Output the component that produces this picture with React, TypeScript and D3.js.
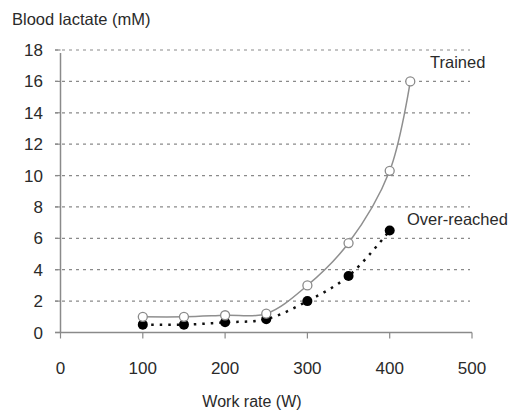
import React from 'react';
import * as d3 from 'd3';

// values
const workRate = [100, 150, 200, 250, 300, 350, 400];
const trainedX = [100, 150, 200, 250, 300, 350, 400, 425];
const trained = [1.0, 1.0, 1.1, 1.2, 3.0, 5.7, 10.3, 16.0];
const overReached = [0.5, 0.5, 0.65, 0.85, 2.0, 3.6, 6.5];
const xTicks = [0, 100, 200, 300, 400, 500];
const yTicks = [0, 2, 4, 6, 8, 10, 12, 14, 16, 18];

const W = 518;
const H = 414;
const font = '"Liberation Sans", Arial, sans-serif';

const App = () => {
  const x = d3.scaleLinear().domain([0, 500]).range([60.5, 472]);
  const y = d3.scaleLinear().domain([0, 18]).range([332.5, 50]);

  const line = d3
    .line<[number, number]>()
    .x((d) => x(d[0]))
    .y((d) => y(d[1]))
    .curve(d3.curveCatmullRom.alpha(0.5));

  const trainedPts: [number, number][] = trainedX.map((v, i) => [v, trained[i]]);
  const overPts: [number, number][] = workRate.map((v, i) => [v, overReached[i]]);

  return (
    <svg
      width={W}
      height={H}
      style={{ position: 'absolute', left: 0, top: 0, background: '#fff' }}
    >
      <text x={12} y={25} fontFamily={font} fontSize={16.5} fill="#2a2a2a">
        Blood lactate (mM)
      </text>

      {/* grid */}
      {yTicks
        .filter((t) => t > 0)
        .map((t) => (
          <line
            key={'g' + t}
            x1={55}
            x2={470}
            y1={y(t)}
            y2={y(t)}
            stroke="#8a8a8a"
            strokeWidth={1.2}
            strokeDasharray="3 4"
          />
        ))}

      {/* y axis */}
      <line x1={x(0)} x2={x(0)} y1={y(18) + 3} y2={y(0)} stroke="#8a8a8a" strokeWidth={1.5} />
      {yTicks.map((t) => (
        <g key={'y' + t}>
          <line x1={55} x2={x(0)} y1={y(t)} y2={y(t)} stroke="#8a8a8a" strokeWidth={1.2} />
          <text
            x={43}
            y={y(t) + 6}
            textAnchor="end"
            fontFamily={font}
            fontSize={17}
            fill="#2a2a2a"
          >
            {t}
          </text>
        </g>
      ))}

      {/* x axis */}
      <line x1={55} x2={x(500)} y1={y(0)} y2={y(0)} stroke="#8a8a8a" strokeWidth={1.5} />
      {xTicks.map((t) => (
        <g key={'x' + t}>
          <line x1={x(t)} x2={x(t)} y1={y(0)} y2={y(0) + 6} stroke="#8a8a8a" strokeWidth={1.2} />
          <text
            x={x(t)}
            y={374}
            textAnchor="middle"
            fontFamily={font}
            fontSize={17}
            fill="#2a2a2a"
          >
            {t}
          </text>
        </g>
      ))}
      <text x={252} y={407} textAnchor="middle" fontFamily={font} fontSize={16} fill="#2a2a2a">
        Work rate (W)
      </text>

      {/* over-reached */}
      <path
        d={line(overPts) || ''}
        fill="none"
        stroke="#111"
        strokeWidth={2.5}
        strokeDasharray="2.5 6"
      />
      {overPts.map((d, i) => (
        <circle key={'o' + i} cx={x(d[0])} cy={y(d[1])} r={5} fill="#000" />
      ))}

      {/* trained */}
      <path d={line(trainedPts) || ''} fill="none" stroke="#8f8f8f" strokeWidth={1.5} />
      {trainedPts.map((d, i) => (
        <circle
          key={'t' + i}
          cx={x(d[0])}
          cy={y(d[1])}
          r={4.5}
          fill="#fff"
          stroke="#8a8a8a"
          strokeWidth={1.3}
        />
      ))}

      <text x={430} y={68} fontFamily={font} fontSize={16.5} fill="#2a2a2a">
        Trained
      </text>
      <text x={407} y={225} fontFamily={font} fontSize={16.5} fill="#2a2a2a">
        Over-reached
      </text>
    </svg>
  );
};

export default App;
